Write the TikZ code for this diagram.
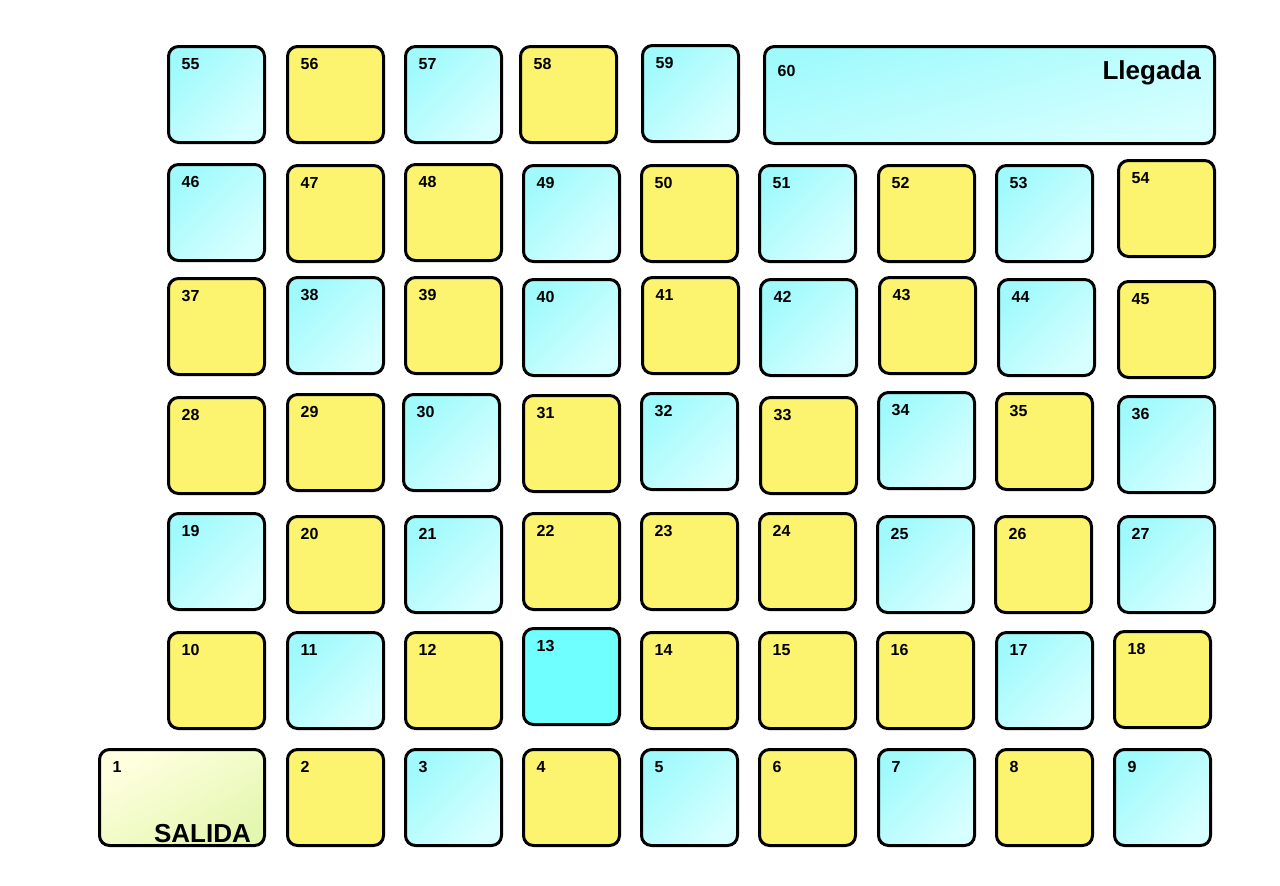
\documentclass[tikz,border=0pt]{standalone}
\usepackage{fontspec}
\setmainfont{Liberation Sans}
\usetikzlibrary{positioning}
\definecolor{aguaA}{HTML}{A0FAFC}
\definecolor{aguaB}{HTML}{D8FFFF}
\definecolor{amarillo}{HTML}{FCF36F}
\definecolor{turquesa}{HTML}{70FFFF}
\definecolor{salidaA}{HTML}{FFFFE0}
\definecolor{salidaB}{HTML}{E4F7B0}
\tikzset{
  casilla/.style={draw=black, line width=3pt, rounded corners=10pt,
    minimum size=96pt, inner sep=0pt},
  agua/.style={casilla, top color=aguaA, bottom color=aguaB, shading angle=45},
  sol/.style={casilla, fill=amarillo},
  turq/.style={casilla, fill=turquesa},
  num/.style={font=\fontsize{16}{18}\selectfont\bfseries, inner sep=0pt},
  rotulo/.style={font=\fontsize{26}{28}\selectfont\bfseries, inner sep=0pt},
}

\begin{document}
\begin{tikzpicture}[x=1pt, y=-1pt]
\useasboundingbox (0,0) rectangle (1280,886);

% casillas normales: numero/izquierda/arriba/estilo
\foreach \n/\x/\y/\s in {
  2/286/748/sol, 3/404/748/agua, 4/522/748/sol, 5/640/748/agua,
  6/758/748/sol, 7/877/748/agua, 8/995/748/sol, 9/1113/748/agua,
  10/167/631/sol, 11/286/631/agua, 12/404/631/sol, 13/522/627/turq,
  14/640/631/sol, 15/758/631/sol, 16/876/631/sol, 17/995/631/agua, 18/1113/630/sol,
  19/167/512/agua, 20/286/515/sol, 21/404/515/agua, 22/522/512/sol,
  23/640/512/sol, 24/758/512/sol, 25/876/515/agua, 26/994/515/sol, 27/1117/515/agua,
  28/167/396/sol, 29/286/393/sol, 30/402/393/agua, 31/522/394/sol,
  32/640/392/agua, 33/759/396/sol, 34/877/391/agua, 35/995/392/sol, 36/1117/395/agua,
  37/167/277/sol, 38/286/276/agua, 39/404/276/sol, 40/522/278/agua,
  41/641/276/sol, 42/759/278/agua, 43/878/276/sol, 44/997/278/agua, 45/1117/280/sol,
  46/167/163/agua, 47/286/164/sol, 48/404/163/sol, 49/522/164/agua,
  50/640/164/sol, 51/758/164/agua, 52/877/164/sol, 53/995/164/agua, 54/1117/159/sol,
  55/167/45/agua, 56/286/45/sol, 57/404/45/agua, 58/519/45/sol, 59/641/44/agua}
{
  \node[\s] (c\n) at (\x+49.5,\y+49.5) {};
  \node[num, below right=13pt and 14.5pt of c\n.north west, anchor=north west] {\n};
}

% salida y llegada
\node[casilla, minimum width=165pt, top color=salidaA, bottom color=salidaB,
  shading angle=30] (c1) at (182,797.5) {};
\node[num, below right=13pt and 14.5pt of c1.north west, anchor=north west] {1};
\node[rotulo, above left=4pt and 15pt of c1.south east, anchor=south east] {SALIDA};

\node[casilla, minimum width=450pt, minimum height=97pt,
  top color=aguaA, bottom color=aguaB, shading angle=15] (c60) at (989.5,95) {};
\node[num, below right=20pt and 14.5pt of c60.north west, anchor=north west] {60};
\node[rotulo, below left=15pt and 15pt of c60.north east, anchor=north east] {Llegada};

\end{tikzpicture}
\end{document}
